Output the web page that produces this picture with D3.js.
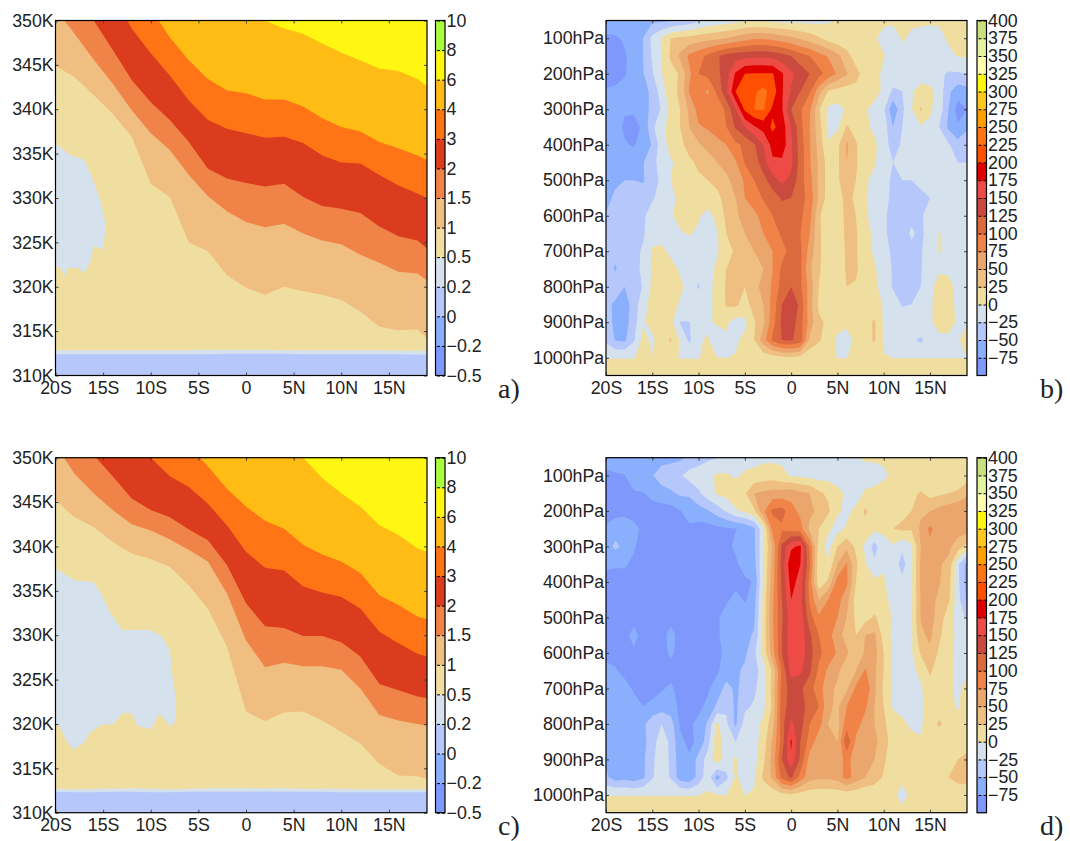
<!DOCTYPE html>
<html>
<head>
<meta charset="utf-8">
<script src="https://cdnjs.cloudflare.com/ajax/libs/d3/7.8.5/d3.min.js"></script>
<style>
body {margin: 0; background: #fff;}
text {font-family: "Liberation Sans", Arial, sans-serif; fill: #222;}
.tag {font-family: "Liberation Serif", serif; font-size: 28px;}
</style>
</head>
<body>
<svg id="chart" width="1070" height="841"></svg>
<script>
// axes
var lonTicks = [-20, -15, -10, -5, 0, 5, 10, 15]
var lonLabels = ['20S', '15S', '10S', '5S', '0', '5N', '10N', '15N']
var thetaTicks = [310, 315, 320, 325, 330, 335, 340, 345, 350]
var pressTicks = [100, 200, 300, 400, 500, 600, 700, 800, 900, 1000]

// colour levels, left panels
var thetaLevels = [-0.5, -0.2, 0, 0.2, 0.5, 1, 1.5, 2, 3, 4, 6, 8, 10]
var thetaColors = ['#7f98fc', '#8aaffc', '#b6c7fb', '#d5e1ec', '#f0dea0', '#efbe80', '#f08448', '#dc3c1e', '#ff7414', '#ffbc14', '#fff712', '#aaff3c']

// colour levels, right panels
var pressLevels = [-100, -75, -50, -25, 0, 25, 50, 75, 100, 125, 150, 175, 200, 225, 250, 275, 300, 325, 350, 375, 400]
var pressColors = ['#7f98fc', '#8aaffc', '#b6c7fb', '#d5e1ec', '#f0dea0', '#eebf80', '#eba66e', '#f08448', '#dc6a3f', '#cb4a3f', '#ee4b46', '#e00000', '#ff4f00', '#ff7414', '#ff9f00', '#ffc81e', '#fff712', '#ffffb0', '#e4f3a0', '#c9e07e']

// longitudes where the isentropic contours were read
var sampleLon = [-20, -18, -16, -14, -12, -10, -8, -6, -4, -2, 0, 2, 4, 6, 8, 10, 12, 14, 16, 18, 19]

// panel a: height (K) of each contour
var a02 = [312.4, 312.4, 312.4, 312.4, 312.4, 312.4, 312.4, 312.4, 312.4, 312.45, 312.45, 312.45, 312.45, 312.4, 312.4, 312.4, 312.4, 312.4, 312.4, 312.35, 312.35]
var a05 = [312.85, 312.85, 312.85, 312.85, 312.85, 312.85, 312.85, 312.85, 312.9, 312.9, 312.9, 312.9, 312.85, 312.85, 312.85, 312.85, 312.85, 312.85, 312.8, 312.8, 312.8]
var a1 = [344.9, 343.6, 341.6, 339.5, 336.9, 331.6, 330.1, 325.0, 324.0, 321.3, 319.9, 319.1, 320.0, 319.5, 319.1, 318.5, 317.2, 315.5, 315.1, 315.2, 314.2]
var a15 = [351.3, 348.5, 345.6, 342.9, 339.9, 337.3, 335.4, 332.6, 330.2, 328.5, 327.3, 326.7, 327.1, 326.0, 325.2, 324.8, 323.6, 322.7, 321.7, 321.5, 320.7]
var a2 = [355, 352.6, 350.0, 346.7, 343.3, 340.8, 338.8, 336.3, 333.3, 332.2, 331.7, 331.3, 331.6, 330.1, 329.1, 328.8, 328.3, 326.8, 325.7, 325.2, 324.3]
var a3 = [359, 357, 355, 353, 349.1, 346.3, 343.8, 341.0, 338.8, 337.8, 337.3, 336.8, 336.9, 336.2, 334.8, 334.0, 333.9, 332.6, 331.4, 330.5, 330.0]
var a4 = [358, 357, 356, 356, 355, 351.3, 348.1, 345.5, 343.4, 342.1, 341.8, 341.1, 341.1, 340.3, 339.0, 338.0, 337.5, 336.3, 335.6, 334.8, 334.3]
var a6 = [353, 353, 353, 353, 353, 353, 353, 353, 352.5, 352, 351, 350, 349.1, 348.5, 347.4, 346.4, 345.5, 344.6, 344.3, 343.4, 342.6]
// the 0.2-0.5 patch on the left of panel a
var aPatchLon = [-20, -18.4, -17, -16.2, -15.2, -14.7, -15, -16, -16.3, -17, -17.6, -18.7, -19.1, -19.4, -20]
var aPatchK = [336.1, 334.8, 334.3, 332.4, 329.4, 326.8, 324.2, 324.6, 323, 321.5, 322.1, 322.1, 321.1, 322.1, 322.3]

// panel c: height (K) of each contour
var c02 = [312.35, 312.3, 312.3, 312.35, 312.35, 312.3, 312.3, 312.35, 312.35, 312.35, 312.35, 312.4, 312.35, 312.35, 312.35, 312.3, 312.3, 312.3, 312.3, 312.3, 312.3]
var c05 = [312.7, 312.65, 312.7, 312.7, 312.75, 312.7, 312.65, 312.7, 312.75, 312.75, 312.75, 312.75, 312.75, 312.7, 312.7, 312.7, 312.65, 312.65, 312.65, 312.65, 312.65]
var c1 = [345.2, 343.3, 342.2, 340.5, 339.2, 338.6, 337.7, 335.6, 333.0, 328.7, 321.4, 320.3, 321.3, 321.4, 320.4, 319.1, 317.8, 315.5, 314.2, 314.1, 313.8]
var c15 = [351.4, 348.2, 346.0, 344.1, 342.5, 341.8, 340.8, 339.6, 338.3, 334.7, 329.4, 326.4, 326.9, 326.5, 326.5, 326.1, 324.0, 321.0, 320.4, 320.0, 319.8]
var c2 = [355, 352.4, 350.3, 347.9, 345.4, 344.1, 343.3, 341.9, 340.7, 337.9, 333.6, 331.0, 330.8, 329.9, 329.9, 329.2, 327.6, 324.5, 323.8, 323.1, 322.9]
var c3 = [360, 358, 356, 354, 352, 350, 347.9, 346.7, 344.8, 342.4, 339.4, 337.6, 337.3, 335.5, 334.8, 334.3, 333.0, 330.4, 329.1, 327.9, 327.6]
var c4 = [358, 358, 358, 358, 358, 356, 354.2, 351.4, 349.0, 346.5, 344.5, 342.9, 342.0, 340.2, 339.1, 338.3, 337.0, 334.5, 333.4, 332.1, 331.8]
var c6 = [354, 354, 354, 354, 354, 354, 354, 354, 354, 354, 354, 353, 352, 350, 347.7, 346.0, 344.5, 342.4, 341.3, 339.8, 339.4]
var cPatchLon = [-20, -18, -16, -15.2, -14.4, -13, -10, -8.8, -8, -7.7, -7.3, -7.5, -8, -9.1, -10, -11.4, -12, -13, -13.9, -15.2, -16.4, -16.9, -18.1, -18.9, -19.6, -20]
var cPatchK = [337.5, 336.2, 336.0, 334.7, 332.8, 330.6, 330.6, 329.8, 328.3, 325.3, 322.3, 320.2, 319.7, 321.2, 319.4, 319.8, 321.2, 321.2, 320.0, 319.9, 319.0, 318.0, 317.1, 318.2, 319.7, 320.0]

// right panels: one row per pressure level (50 to 1050 hPa), one column per degree (20S to 19N)
var gridB = [
  [-60,-60,-60,-58,-56, -55,-55,-52,-45,-40, -30,-20,-15,-12,-8, -3,-2,-3,-6,-8, -8,-8,-8,-6,-3, 1,3,3,3,3, 3,3,3,3,3, 3,3,4,4,5],
  [-80,-78,-72,-60,-50, -18,2,25,30,33, 38,42,45,50,58, 65,72,72,68,62, 55,47,38,28,15, 8,5,6,4,2, -5,-8,2,-3,-6, -8,-6,3,5,6],
  [-85,-82,-78,-65,-50, -22,-1,30,55,80, 92,105,122,135,140, 142,145,145,142,135, 125,110,100,85,73, 57,35,12,5,3, 1,-5,-8,-10,-12, -20,-15,-5,1,3],
  [-85,-85,-78,-62,-52, -27,-1,15,28,70, 100,108,118,140,178, 200,202,202,202,178, 155,140,125,108,92, 72,52,35,12,5, -3,-8,-10,-12,-12, -15,-20,-28,-28,-25],
  [-72,-70,-65,-60,-58, -45,-12,15,30,78, 85,72,105,145,200, 215,222,232,215,178, 148,125,103,60,22, 15,12,15,25,10, -5,-30,-25,-3,10, 8,-10,-45,-65,-60],
  [-65,-60,-72,-70,-58, -45,-22,8,25,55, 85,85,85,105,150, 205,225,228,195,178, 125,103,80,28,-5, -8,3,3,3,-8, -20,-70,-30,-2,28, 3,-10,-50,-85,-75],
  [-65,-62,-80,-85,-70, -30,-8,10,25,50, 72,78,90,100,128, 150,172,185,205,190, 150,108,75,35,-5, -5,28,15,3,-3, -10,-50,-25,-2,-2, -4,-25,-55,-72,-55],
  [-60,-60,-72,-78,-62, -48,-10,8,18,35, 47,58,65,75,95, 105,122,150,185,190, 155,112,78,40,2, 18,55,28,8,3, -8,-40,-20,-15,-15, -15,-15,-22,-40,-30],
  [-58,-58,-58,-55,-52, -30,-18,-3,8,20, 30,38,50,62,72, 102,110,140,170,170, 155,115,78,45,15, 20,50,28,8,2, -10,-25,-15,-15,-15, -15,-15,-18,-25,-25],
  [-58,-55,-50,-50,-52, -35,-20,0,5,12, 20,25,32,42,62, 78,100,115,140,155, 145,110,85,45,15, 20,45,25,3,-5, -15,-30,-25,-25,-20, -15,-15,-18,-5,-3],
  [-58,-45,-45,-42,-40, -28,-15,-3,3,5, 8,12,18,35,50, 75,90,102,112,128, 125,108,92,45,15, 18,30,22,2,-10, -18,-30,-35,-30,-30, -25,-10,-5,-4,-3],
  [-48,-40,-38,-32,-30, -12,-8,-3,8,8, 3,-8,8,30,45, 60,68,85,100,110, 110,105,85,28,10, 15,30,25,2,-5, -20,-35,-40,-30,-28, -15,-8,-3,-2,-2],
  [-40,-35,-35,-30,-28, -10,-8,-5,-3,2, -5,-8,-3,25,30, 50,65,75,85,105, 110,100,75,30,8, 12,30,28,5,-3, -18,-38,-35,-22,-30, -15,1,-5,-5,-5],
  [-40,-45,-32,-32,-22, 3,5,-5,-8,-12, -10,-8,-2,12,30, 35,50,60,75,90, 110,105,65,30,10, 12,28,28,5,-2, -15,-30,-35,-30,-28, -8,1,-5,-3,-3],
  [-40,-52,-40,-30,-22, 3,8,8,-3,-8, -15,-5,3,25,28, 35,45,50,75,105, 115,105,55,28,10, 10,28,30,5,2, -8,-28,-28,-32,-28, -5,-3,-3,-3,-3],
  [-42,-35,-50,-45,-22, 5,12,12,5,-8, -28,-5,5,28,28, 25,45,55,80,110, 125,105,65,25,8, 8,25,22,5,3, -5,-28,-28,-28,-25, -5,8,5,-5,-5],
  [-42,-55,-62,-40,-8, 8,10,10,-3,-5, -8,-3,3,28,30, 15,35,50,85,125, 140,120,60,20,8, 3,5,8,8,15, -3,-8,-28,-25,-10, -3,8,5,-3,-3],
  [-40,-55,-62,-35,-3, 8,10,8,-26,-26, -5,-5,5,5,-10, -5,22,45,90,130, 140,110,65,30,20, 10,5,2,15,28, -3,-5,-3,-10,-5, -3,8,5,-2,-2],
  [-30,-52,-55,-28,8, -5,15,28,-3,-30, -3,3,-25,-5,-3, 5,25,65,105,125, 128,115,45,28,15, -5,-8,5,15,28, -3,-10,-8,-20,-30, -15,-5,-3,-2,8],
  [-.2,-.2,-.2,-.2,1, 1,1,1,-.2,-.2, -.2,1,.5,-.1,1, 2,3,8,12,18, 20,15,5,3,1, -.1,-.1,1,1,1, 1,-.1,-.1,-.1,-.1, -.1,-.1,-.1,-.1,-.1],
  [3,3,3,3,3, 3,3,3,3,3, 3,3,3,3,3, 3,3,3,3,3, 3,3,3,3,3, 3,3,3,3,3, 3,3,3,3,3, 3,3,3,3,3]
]

var gridD = [
  [-65,-60,-58,-58,-58, -62,-62,-60,-55,-45, -40,-30,-25,-18,-10, -8,-6,-5,-5,-4, -4,-4,-5,-6,-5, -4,-3,-2,3,3, 3,3,3,3,3, 3,3,3,3,3],
  [-80,-78,-76,-60,-58, -52,-35,-30,-28,-15, -8,-5,3,3,-3, 3,5,10,12,5, -2,-5,-8,-10,-10, -10,-10,-10,-10,-8, -3,3,3,3,3, 3,3,3,3,12],
  [-85,-85,-82,-78,-76, -68,-62,-55,-45,-45, -30,-10,3,8,12, 22,50,55,60,60, 65,55,50,30,20, 6,-3,-10,3,5, 8,10,12,18,28, 15,20,25,30,45],
  [-85,-85,-85,-85,-85, -85,-85,-85,-76,-68, -60,-52,-38,-22,-3, 5,20,70,105,110, 85,68,55,45,30, 3,-5,5,30,12, 5,8,18,25,45, 50,58,65,70,72],
  [-72,-60,-55,-68,-80, -82,-85,-82,-80,-78, -85,-85,-80,-78,-76, -70,-55,-5,85,95, 90,85,45,25,5, -8,3,8,15,5, 3,25,30,28,55, 80,62,58,60,62],
  [-62,-45,-55,-72,-85, -85,-85,-85,-85,-85, -85,-85,-85,-82,-70, -62,-55,-3,55,130, 170,180,95,15,-10, 25,45,20,-5,-35, -5,-3,-20,-5,50, 70,65,55,40,15],
  [-70,-72,-72,-80,-85, -85,-80,-85,-85,-85, -85,-85,-85,-85,-80, -62,-60,0,60,135, 195,175,105,5,5, 50,78,30,3,-20, -3,-10,-35,-5,55, 60,52,45,-20,-60],
  [-85,-85,-85,-85,-85, -85,-85,-85,-85,-85, -85,-85,-85,-85,-85, -82,-72,3,65,130, 185,165,90,8,30, 85,80,25,5,5, 3,-15,-18,-5,55, 60,52,35,-18,-60],
  [-85,-85,-85,-85,-85, -85,-85,-85,-85,-85, -85,-85,-85,-80,-65, -78,-60,8,70,125, 175,160,95,50,75, 85,60,15,5,12, 8,-8,-10,-5,52, 58,45,30,-15,-55],
  [-85,-85,-85,-85,-85, -85,-85,-85,-85,-85, -85,-85,-80,-60,-62, -62,-55,10,72,122, 165,165,110,80,85, 75,50,20,15,28, 15,-3,-20,-3,52, 58,40,10,-8,-30],
  [-85,-85,-85,-65,-85, -85,-85,-65,-85,-85, -85,-85,-80,-62,-55, -55,-48,10,70,125, 165,168,130,100,85, 60,40,25,50,55, 15,-5,-22,-5,45, 55,30,8,-5,-5],
  [-85,-85,-85,-80,-85, -85,-85,-70,-85,-85, -85,-85,-80,-70,-58, -55,-30,8,65,125, 165,165,135,105,90, 72,55,25,55,60, 25,-3,-8,-3,28, 45,20,5,-5,-5],
  [-65,-72,-85,-85,-85, -85,-85,-85,-85,-85, -85,-82,-78,-65,-55, -45,-35,-12,30,105, 160,155,130,95,70, 55,35,50,78,55, 25,-3,-5,-5,5, 30,10,3,-3,-3],
  [-70,-60,-62,-80,-85, -85,-78,-70,-85,-85, -85,-78,-65,-40,-55, -40,-30,-10,35,110, 135,130,110,85,60, 45,45,80,95,55, 20,-3,-5,-8,-3, 15,8,3,-3,5],
  [-62,-58,-62,-60,-75, -68,-62,-65,-80,-82, -80,-70,-45,-30,-55, -30,-22,-8,30,115, 135,132,118,100,55, 45,75,85,80,50, 25,-3,-5,-12,-8, 15,15,5,-2,10],
  [-60,-58,-55,-55,-55, -35,-25,-38,-78,-78, -70,-45,5,-20,-55, -15,-15,8,40,115, 155,135,100,85,50, 40,90,85,65,50, 30,12,3,-3,-5, 18,28,18,5,22],
  [-60,-62,-55,-58,-58, -35,-12,-30,-70,-80, -70,-35,20,-18,-25, -15,-10,12,55,110, 180,125,90,60,55, 50,120,70,50,55, 40,10,3,5,3, 8,12,20,15,20],
  [-55,-52,-52,-68,-55, -30,-10,-30,-65,-72, -40,-15,15,-12,5, -25,-12,20,60,125, 170,120,65,55,55, 60,85,60,50,50, 30,8,3,25,25, 5,25,15,25,28],
  [-45,-62,-58,-65,-55, -28,-8,-28,-62,-70, -40,-10,-60,-30,3, -8,-3,30,55,110, 130,90,60,55,55, 60,85,65,50,40, 22,8,3,8,18, 25,20,25,28,28],
  [-.2,-.2,-.2,-.2,-.2, -.2,-.2,-.2,-.2,-.2, -.2,3,.5,-.2,5, -.2,2,5,10,15, 20,15,10,10,10, 10,10,8,3,3, 3,3,-4,3,3, 10,8,20,20,20],
  [3,3,3,3,3, 3,3,3,3,3, 3,3,3,3,3, 3,3,3,3,3, 3,3,3,3,3, 3,3,3,3,3, 3,3,3,3,3, 3,3,3,3,3]
]

var svg = d3.select('#chart')
var fontSize = 17.8
var minus = d => String(d).replace('-', '\u2212')

function frame(box, name, yScale, yTicks, yFormat){
  var x = d3.scaleLinear().domain([-20, 19]).range([box.x0, box.x1])
  var g = svg.append('g')

  g.append('clipPath').attr('id', 'clip-' + name)
    .append('rect')
    .attr('x', box.x0).attr('y', box.y0)
    .attr('width', box.x1 - box.x0).attr('height', box.y1 - box.y0)

  var plot = g.append('g').attr('clip-path', 'url(#clip-' + name + ')')
  return {x, g, plot, box, yScale, yTicks, yFormat}
}

function finishFrame(p){
  var b = p.box, g = p.g

  g.append('g').attr('transform', `translate(0,${b.y1})`)
    .call(d3.axisBottom(p.x).tickValues(lonTicks).tickFormat((d, i) => lonLabels[i]).tickSize(-3).tickPadding(5.7))
  g.append('g').attr('transform', `translate(0,${b.y0})`)
    .call(d3.axisTop(p.x).tickValues(lonTicks).tickFormat('').tickSize(-3))
  g.append('g').attr('transform', `translate(${b.x0},0)`)
    .call(d3.axisLeft(p.yScale).tickValues(p.yTicks).tickFormat(p.yFormat).tickSize(-3).tickPadding(1.8))
  g.append('g').attr('transform', `translate(${b.x1},0)`)
    .call(d3.axisRight(p.yScale).tickValues(p.yTicks).tickFormat('').tickSize(-3))

  g.selectAll('.domain').remove()
  g.selectAll('.tick line').attr('stroke', '#444')
  g.selectAll('.tick text').style('font-size', fontSize + 'px').style('fill', '#222')

  g.append('rect')
    .attr('x', b.x0).attr('y', b.y0)
    .attr('width', b.x1 - b.x0).attr('height', b.y1 - b.y0)
    .attr('fill', 'none').attr('stroke', '#000').attr('stroke-width', 1.2)
}

function colorbar(x0, y0, y1, levels, colors){
  var w = 9.5
  var y = d3.scalePoint().domain(levels).range([y1, y0])
  var g = svg.append('g')

  g.selectAll('rect.band').data(colors).enter().append('rect')
    .attr('class', 'band')
    .attr('x', x0).attr('width', w)
    .attr('y', (d, i) => y(levels[i + 1]))
    .attr('height', (d, i) => y(levels[i]) - y(levels[i + 1]) + 0.5)
    .attr('fill', d => d)

  var ax = g.append('g').attr('transform', `translate(${x0 + w},0)`)
    .call(d3.axisRight(y)
      .tickValues(levels.filter(d => d != -100))
      .tickFormat(minus)
      .tickSize(-w)
      .tickPadding(1.5))
  ax.select('.domain').remove()
  ax.selectAll('.tick line').attr('stroke', '#000').attr('stroke-dasharray', '3,2')
  ax.selectAll('.tick text').style('font-size', fontSize + 'px').style('fill', '#222')

  g.append('rect')
    .attr('x', x0).attr('y', y0).attr('width', w).attr('height', y1 - y0)
    .attr('fill', 'none').attr('stroke', '#000').attr('stroke-width', 1.2)
}

function thetaPanel(name, box, bands, patchLon, patchK){
  var y = d3.scaleLinear().domain([310, 350]).range([box.y1, box.y0])
  var p = frame(box, name, y, thetaTicks, d => d + 'K')

  p.plot.append('rect')
    .attr('x', box.x0).attr('y', box.y0)
    .attr('width', box.x1 - box.x0).attr('height', box.y1 - box.y0)
    .attr('fill', thetaColors[2])

  var area = d3.area()
    .x((d, i) => p.x(sampleLon[i]))
    .y0(box.y0 - 20)
    .y1(d => y(d))

  var line = d3.line()
    .x((d, i) => p.x(patchLon[i]))
    .y(d => y(d))

  bands.forEach((values, i) => {
    p.plot.append('path')
      .attr('d', area(values))
      .attr('fill', thetaColors[i + 3])
    if (i == 1){
      p.plot.append('path')
        .attr('d', line(patchK) + 'Z')
        .attr('fill', thetaColors[3])
    }
  })

  finishFrame(p)
}

function pressPanel(name, box, grid){
  var y = d3.scaleLinear().domain([50, 1050]).range([box.y0, box.y1])
  var p = frame(box, name, y, pressTicks, d => d + 'hPa')

  var contours = d3.contours()
    .size([grid[0].length, grid.length])
    .thresholds(pressLevels.slice(0, -1))(grid.flat())

  // grid cell centres sit at i + .5 in contour space
  var path = d3.geoPath(d3.geoTransform({
    point: function(cx, cy){
      this.stream.point(p.x(-20 + cx - 0.5), y(50 + (cy - 0.5) * 50))
    }
  }))

  p.plot.selectAll('path').data(contours).enter().append('path')
    .attr('d', path)
    .attr('fill', (d, i) => pressColors[i])

  finishFrame(p)
}

function tag(str, x, y){
  svg.append('text').attr('class', 'tag').attr('x', x).attr('y', y).text(str)
}

var topRow = {y0: 20.5, y1: 375.5}
var lowRow = {y0: 457.7, y1: 812.7}
var leftCol = {x0: 55.5, x1: 427}
var rightCol = {x0: 606, x1: 967}

thetaPanel('a', {...leftCol, ...topRow}, [a02, a05, a1, a15, a2, a3, a4, a6], aPatchLon, aPatchK)
pressPanel('b', {...rightCol, ...topRow}, gridB)
thetaPanel('c', {...leftCol, ...lowRow}, [c02, c05, c1, c15, c2, c3, c4, c6], cPatchLon, cPatchK)
pressPanel('d', {...rightCol, ...lowRow}, gridD)

colorbar(435.5, topRow.y0, topRow.y1, thetaLevels, thetaColors)
colorbar(977, topRow.y0, topRow.y1, pressLevels, pressColors)
colorbar(435.5, lowRow.y0, lowRow.y1, thetaLevels, thetaColors)
colorbar(977, lowRow.y0, lowRow.y1, pressLevels, pressColors)

tag('a)', 498, 398)
tag('b)', 1040, 398)
tag('c)', 498, 835)
tag('d)', 1040, 835)
</script>
</body>
</html>
